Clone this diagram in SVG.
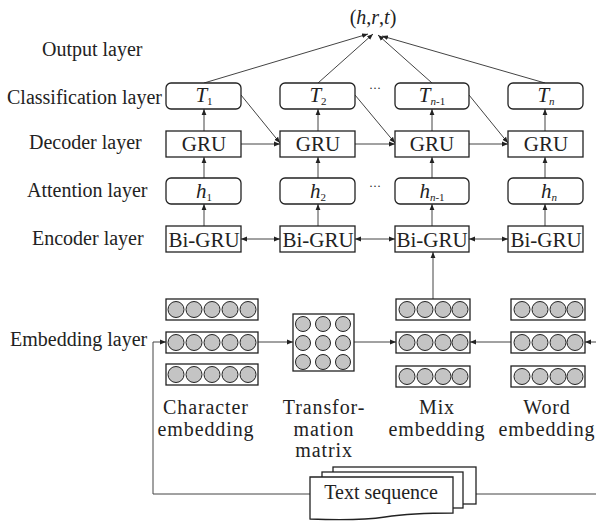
<svg xmlns="http://www.w3.org/2000/svg" width="596" height="521" viewBox="0 0 596 521">
<style>
text{font-family:"Liberation Serif","Times New Roman",serif;fill:#222}
.lbl{font-size:20px}
.box{fill:#fff;stroke:#222;stroke-width:1.3}
.c{fill:#c4c4c4;stroke:#222;stroke-width:1}
.ln{fill:none;stroke:#444;stroke-width:1}
.it{font-style:italic}
.mid{text-anchor:middle}
.sub{font-size:11px;font-style:normal}
.subi{font-size:11px;font-style:italic}
.emb{font-size:20px;letter-spacing:0.9px;text-anchor:middle}
</style>
<defs>
<marker id="ah" viewBox="0 0 10 10" refX="10" refY="5" markerWidth="6" markerHeight="6" markerUnits="userSpaceOnUse" orient="auto-start-reverse">
<path d="M0,1 L10,5 L0,9 z" fill="#222"/>
</marker>
</defs>

<rect width="596" height="521" fill="#fff"/>

<g id="layer-labels">
<text class="lbl" x="42" y="56">Output layer</text>
<text class="lbl" x="7" y="104">Classification layer</text>
<text class="lbl" x="29" y="149">Decoder layer</text>
<text class="lbl" x="27" y="197">Attention layer</text>
<text class="lbl" x="32" y="245">Encoder layer</text>
<text class="lbl" x="10" y="346">Embedding layer</text>
</g>

<g id="output">
<text x="373" y="24" class="mid" font-size="20"><tspan>(</tspan><tspan class="it">h</tspan><tspan>,</tspan><tspan class="it">r</tspan><tspan>,</tspan><tspan class="it">t</tspan><tspan>)</tspan></text>
</g>

<g id="connectors">
<line class="ln" x1="204" y1="83" x2="368" y2="34" marker-end="url(#ah)"/>
<line class="ln" x1="318" y1="83" x2="373" y2="34" marker-end="url(#ah)"/>
<line class="ln" x1="432" y1="83" x2="378" y2="35" marker-end="url(#ah)"/>
<line class="ln" x1="545" y1="83" x2="382" y2="36" marker-end="url(#ah)"/>
<line class="ln" x1="204" y1="131" x2="204" y2="109" marker-end="url(#ah)"/>
<line class="ln" x1="318" y1="131" x2="318" y2="109" marker-end="url(#ah)"/>
<line class="ln" x1="432" y1="131" x2="432" y2="109" marker-end="url(#ah)"/>
<line class="ln" x1="545" y1="131" x2="545" y2="109" marker-end="url(#ah)"/>
<line class="ln" x1="204" y1="178" x2="204" y2="157" marker-end="url(#ah)"/>
<line class="ln" x1="318" y1="178" x2="318" y2="157" marker-end="url(#ah)"/>
<line class="ln" x1="432" y1="178" x2="432" y2="157" marker-end="url(#ah)"/>
<line class="ln" x1="545" y1="178" x2="545" y2="157" marker-end="url(#ah)"/>
<line class="ln" x1="204" y1="226" x2="204" y2="204" marker-end="url(#ah)"/>
<line class="ln" x1="318" y1="226" x2="318" y2="204" marker-end="url(#ah)"/>
<line class="ln" x1="432" y1="226" x2="432" y2="204" marker-end="url(#ah)"/>
<line class="ln" x1="545" y1="226" x2="545" y2="204" marker-end="url(#ah)"/>
<line class="ln" x1="241" y1="95" x2="280" y2="143" marker-end="url(#ah)"/>
<line class="ln" x1="355" y1="95" x2="395" y2="143" marker-end="url(#ah)"/>
<line class="ln" x1="469" y1="95" x2="508" y2="143" marker-end="url(#ah)"/>
<line class="ln" x1="241" y1="144" x2="280" y2="144" marker-end="url(#ah)"/>
<line class="ln" x1="355" y1="144" x2="395" y2="144" marker-end="url(#ah)"/>
<line class="ln" x1="469" y1="144" x2="508" y2="144" marker-end="url(#ah)"/>
<line class="ln" x1="241" y1="239" x2="280" y2="239" marker-start="url(#ah)" marker-end="url(#ah)"/>
<line class="ln" x1="355" y1="239" x2="395" y2="239" marker-start="url(#ah)" marker-end="url(#ah)"/>
<line class="ln" x1="469" y1="239" x2="508" y2="239" marker-start="url(#ah)" marker-end="url(#ah)"/>
<line class="ln" x1="433" y1="299" x2="433" y2="252" marker-end="url(#ah)"/>
<line class="ln" x1="258" y1="342" x2="293" y2="342" marker-end="url(#ah)"/>
<line class="ln" x1="354" y1="342" x2="396" y2="342" marker-end="url(#ah)"/>
<line class="ln" x1="511" y1="342" x2="470" y2="342" marker-end="url(#ah)"/>
<line class="ln" x1="596" y1="342" x2="585" y2="342" marker-end="url(#ah)"/>
<polyline class="ln" points="310,494 153,494 153,342 166,342" marker-end="url(#ah)"/>
<line class="ln" x1="476" y1="494" x2="596" y2="494"/>
</g>

<g id="T1"><rect class="box" x="166" y="83" width="75" height="26" rx="5"/><text x="204" y="102" class="mid it" font-size="21">T<tspan class="sub" dy="3">1</tspan></text></g>
<g id="T2"><rect class="box" x="280" y="83" width="75" height="26" rx="5"/><text x="318" y="102" class="mid it" font-size="21">T<tspan class="sub" dy="3">2</tspan></text></g>
<g id="Tn-1"><rect class="box" x="395" y="83" width="74" height="26" rx="5"/><text x="432" y="102" class="mid it" font-size="21">T<tspan class="subi" dy="3">n</tspan><tspan class="sub">-1</tspan></text></g>
<g id="Tn"><rect class="box" x="508" y="83" width="75" height="26" rx="5"/><text x="546" y="102" class="mid it" font-size="21">T<tspan class="subi" dy="3">n</tspan></text></g>
<text x="375" y="92" class="mid" font-size="12">···</text>

<g id="GRU1"><rect class="box" x="166" y="131" width="75" height="26"/><text x="204" y="151" class="mid" font-size="21">GRU</text></g>
<g id="GRU2"><rect class="box" x="280" y="131" width="75" height="26"/><text x="318" y="151" class="mid" font-size="21">GRU</text></g>
<g id="GRU3"><rect class="box" x="395" y="131" width="74" height="26"/><text x="432" y="151" class="mid" font-size="21">GRU</text></g>
<g id="GRU4"><rect class="box" x="508" y="131" width="75" height="26"/><text x="546" y="151" class="mid" font-size="21">GRU</text></g>

<g id="h1"><rect class="box" x="166" y="178" width="75" height="26" rx="5"/><text x="204" y="198" class="mid it" font-size="21">h<tspan class="sub" dy="3">1</tspan></text></g>
<g id="h2"><rect class="box" x="280" y="178" width="75" height="26" rx="5"/><text x="318" y="198" class="mid it" font-size="21">h<tspan class="sub" dy="3">2</tspan></text></g>
<g id="hn-1"><rect class="box" x="395" y="178" width="74" height="26" rx="5"/><text x="432" y="198" class="mid it" font-size="21">h<tspan class="subi" dy="3">n</tspan><tspan class="sub">-1</tspan></text></g>
<g id="hn"><rect class="box" x="508" y="178" width="75" height="26" rx="5"/><text x="549" y="198" class="mid it" font-size="21">h<tspan class="subi" dy="3">n</tspan></text></g>
<text x="375" y="190" class="mid" font-size="12">···</text>

<g id="BiGRU1"><rect class="box" x="166" y="226" width="75" height="26"/><text x="204" y="247" class="mid" font-size="21">Bi-GRU</text></g>
<g id="BiGRU2"><rect class="box" x="280" y="226" width="75" height="26"/><text x="318" y="247" class="mid" font-size="21">Bi-GRU</text></g>
<g id="BiGRU3"><rect class="box" x="395" y="226" width="74" height="26"/><text x="432" y="247" class="mid" font-size="21">Bi-GRU</text></g>
<g id="BiGRU4"><rect class="box" x="508" y="226" width="75" height="26"/><text x="546" y="247" class="mid" font-size="21">Bi-GRU</text></g>

<g id="char-embedding">
<rect class="box" x="166" y="299" width="92" height="21"/>
<circle class="c" cx="176" cy="309.5" r="8"/><circle class="c" cx="194" cy="309.5" r="8"/><circle class="c" cx="212" cy="309.5" r="8"/><circle class="c" cx="230" cy="309.5" r="8"/><circle class="c" cx="248" cy="309.5" r="8"/>
<rect class="box" x="166" y="332" width="92" height="21"/>
<circle class="c" cx="176" cy="342.5" r="8"/><circle class="c" cx="194" cy="342.5" r="8"/><circle class="c" cx="212" cy="342.5" r="8"/><circle class="c" cx="230" cy="342.5" r="8"/><circle class="c" cx="248" cy="342.5" r="8"/>
<rect class="box" x="166" y="364" width="92" height="21"/>
<circle class="c" cx="176" cy="374.5" r="8"/><circle class="c" cx="194" cy="374.5" r="8"/><circle class="c" cx="212" cy="374.5" r="8"/><circle class="c" cx="230" cy="374.5" r="8"/><circle class="c" cx="248" cy="374.5" r="8"/>
<text class="emb" x="206" y="414">Character</text>
<text class="emb" x="206" y="436">embedding</text>
</g>

<g id="transformation-matrix">
<rect class="box" x="293" y="314" width="61" height="57"/>
<circle class="c" cx="303" cy="324" r="7.5"/><circle class="c" cx="323" cy="324" r="7.5"/><circle class="c" cx="343" cy="324" r="7.5"/>
<circle class="c" cx="303" cy="343" r="7.5"/><circle class="c" cx="323" cy="343" r="7.5"/><circle class="c" cx="343" cy="343" r="7.5"/>
<circle class="c" cx="303" cy="362" r="7.5"/><circle class="c" cx="323" cy="362" r="7.5"/><circle class="c" cx="343" cy="362" r="7.5"/>
<text class="emb" x="324" y="414">Transfor-</text>
<text class="emb" x="324" y="436">mation</text>
<text class="emb" x="324" y="457">matrix</text>
</g>

<g id="mix-embedding">
<rect class="box" x="396" y="299" width="74" height="21"/>
<circle class="c" cx="407" cy="309.5" r="8"/><circle class="c" cx="425" cy="309.5" r="8"/><circle class="c" cx="443" cy="309.5" r="8"/><circle class="c" cx="460" cy="309.5" r="8"/>
<rect class="box" x="396" y="332" width="74" height="21"/>
<circle class="c" cx="407" cy="342.5" r="8"/><circle class="c" cx="425" cy="342.5" r="8"/><circle class="c" cx="443" cy="342.5" r="8"/><circle class="c" cx="460" cy="342.5" r="8"/>
<rect class="box" x="396" y="366" width="74" height="21"/>
<circle class="c" cx="407" cy="376.5" r="8"/><circle class="c" cx="425" cy="376.5" r="8"/><circle class="c" cx="443" cy="376.5" r="8"/><circle class="c" cx="460" cy="376.5" r="8"/>
<text class="emb" x="437" y="414">Mix</text>
<text class="emb" x="437" y="436">embedding</text>
</g>

<g id="word-embedding">
<rect class="box" x="511" y="299" width="74" height="21"/>
<circle class="c" cx="522" cy="309.5" r="8"/><circle class="c" cx="540" cy="309.5" r="8"/><circle class="c" cx="558" cy="309.5" r="8"/><circle class="c" cx="575" cy="309.5" r="8"/>
<rect class="box" x="511" y="332" width="74" height="21"/>
<circle class="c" cx="522" cy="342.5" r="8"/><circle class="c" cx="540" cy="342.5" r="8"/><circle class="c" cx="558" cy="342.5" r="8"/><circle class="c" cx="575" cy="342.5" r="8"/>
<rect class="box" x="511" y="366" width="74" height="21"/>
<circle class="c" cx="522" cy="376.5" r="8"/><circle class="c" cx="540" cy="376.5" r="8"/><circle class="c" cx="558" cy="376.5" r="8"/><circle class="c" cx="575" cy="376.5" r="8"/>
<text class="emb" x="547" y="414">Word</text>
<text class="emb" x="547" y="436">embedding</text>
</g>

<g id="text-sequence">
<rect class="box" x="333" y="467" width="143" height="37"/>
<rect class="box" x="322" y="472" width="141" height="36"/>
<path class="box" d="M310,477 H453 V513 C430,513 405,514 385,517 C365,520 335,520 310,519 Z"/>
<text x="381" y="499" class="mid" font-size="20">Text sequence</text>
</g>
</svg>
